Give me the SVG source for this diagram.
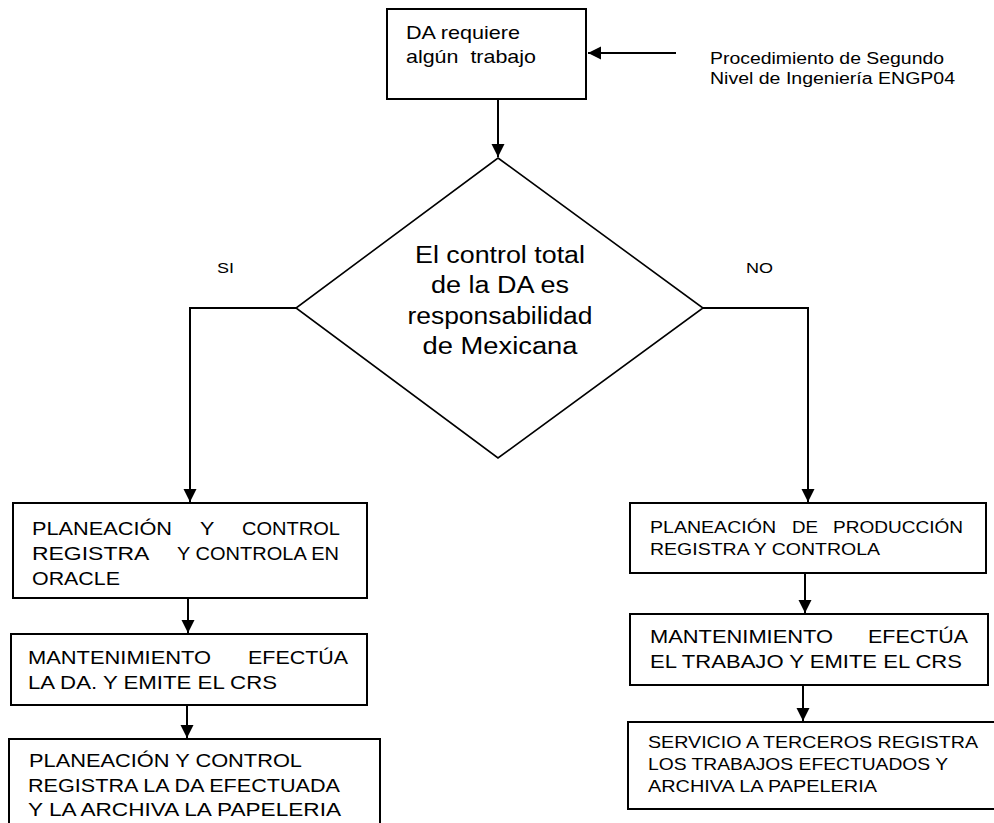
<svg xmlns="http://www.w3.org/2000/svg" width="994" height="823" viewBox="0 0 994 823">
<style>
.box{fill:#fff;stroke:#000;stroke-width:2}
.dia{fill:#fff;stroke:#000;stroke-width:1.6}
.t{font-family:"Liberation Sans",Arial,Helvetica,sans-serif;fill:#000}
.c{stroke:#000;stroke-width:2;fill:none}
</style>
<defs>
<marker id="ah" markerUnits="userSpaceOnUse" markerWidth="14" markerHeight="14" refX="13" refY="6.5" orient="auto">
<path d="M0,0 L13,6.5 L0,13 z" fill="#000"/>
</marker>
</defs>
<rect width="994" height="823" fill="#fff"/>

<g id="connectors">
<line class="c" x1="676" y1="53" x2="588" y2="53" marker-end="url(#ah)"/>
<line class="c" x1="498" y1="88" x2="498" y2="157" marker-end="url(#ah)"/>
<polyline class="c" points="296,308 190,308 190,502" marker-end="url(#ah)"/>
<polyline class="c" points="703,308 808,308 808,502" marker-end="url(#ah)"/>
<line class="c" x1="188" y1="598" x2="188" y2="633" marker-end="url(#ah)"/>
<line class="c" x1="187" y1="705" x2="187" y2="738" marker-end="url(#ah)"/>
<line class="c" x1="805" y1="573" x2="805" y2="613" marker-end="url(#ah)"/>
<line class="c" x1="803" y1="685" x2="803" y2="721" marker-end="url(#ah)"/>
</g>

<g id="start">
<rect class="box" x="387" y="9" width="199" height="90"/>
<text class="t" x="406" y="39" font-size="18.5" textLength="114" lengthAdjust="spacingAndGlyphs">DA requiere</text>
<text class="t" x="406" y="63" font-size="18.5" textLength="130" lengthAdjust="spacingAndGlyphs" xml:space="preserve">algún  trabajo</text>
</g>

<g id="source">
<text class="t" x="710" y="64" font-size="16" textLength="234" lengthAdjust="spacingAndGlyphs">Procedimiento de Segundo</text>
<text class="t" x="710" y="84" font-size="16" textLength="245" lengthAdjust="spacingAndGlyphs">Nivel de Ingeniería ENGP04</text>
</g>

<g id="decision">
<polygon class="dia" points="498,158 703,308 498,458 296,308"/>
<text class="t" x="500" y="263" font-size="23.5" text-anchor="middle" textLength="170" lengthAdjust="spacingAndGlyphs">El control total</text>
<text class="t" x="500" y="293" font-size="23.5" text-anchor="middle" textLength="138" lengthAdjust="spacingAndGlyphs">de la DA es</text>
<text class="t" x="500" y="324" font-size="23.5" text-anchor="middle" textLength="185" lengthAdjust="spacingAndGlyphs">responsabilidad</text>
<text class="t" x="500" y="354" font-size="23.5" text-anchor="middle" textLength="155" lengthAdjust="spacingAndGlyphs">de Mexicana</text>
</g>

<g id="label-si">
<text class="t" x="217" y="273" font-size="15" textLength="17" lengthAdjust="spacingAndGlyphs">SI</text>
</g>
<g id="label-no">
<text class="t" x="746" y="273" font-size="15" textLength="27" lengthAdjust="spacingAndGlyphs">NO</text>
</g>

<g id="left1">
<rect class="box" x="13" y="503" width="354" height="95"/>
<text class="t" y="535" font-size="18"><tspan x="32" textLength="140" lengthAdjust="spacingAndGlyphs">PLANEACIÓN</tspan><tspan> </tspan><tspan x="200" textLength="14" lengthAdjust="spacingAndGlyphs">Y</tspan><tspan> </tspan><tspan x="242" textLength="98" lengthAdjust="spacingAndGlyphs">CONTROL</tspan></text>
<text class="t" y="560" font-size="18"><tspan x="32" textLength="116" lengthAdjust="spacingAndGlyphs">REGISTRA</tspan><tspan> </tspan><tspan x="177" textLength="162" lengthAdjust="spacingAndGlyphs">Y CONTROLA EN</tspan></text>
<text class="t" x="32" y="585" font-size="18" textLength="88" lengthAdjust="spacingAndGlyphs">ORACLE</text>
</g>

<g id="left2">
<rect class="box" x="11" y="634" width="356" height="71"/>
<text class="t" y="664" font-size="19"><tspan x="28" textLength="183" lengthAdjust="spacingAndGlyphs">MANTENIMIENTO</tspan><tspan> </tspan><tspan x="248" textLength="100" lengthAdjust="spacingAndGlyphs">EFECTÚA</tspan></text>
<text class="t" x="28" y="689" font-size="19" textLength="249" lengthAdjust="spacingAndGlyphs">LA DA. Y EMITE EL CRS</text>
</g>

<g id="left3">
<rect class="box" x="9" y="739" width="371" height="100"/>
<text class="t" x="29" y="767" font-size="18.5" textLength="273" lengthAdjust="spacingAndGlyphs">PLANEACIÓN Y CONTROL</text>
<text class="t" x="28" y="792" font-size="18.5" textLength="312" lengthAdjust="spacingAndGlyphs">REGISTRA LA DA EFECTUADA</text>
<text class="t" x="28" y="816" font-size="18.5" textLength="313" lengthAdjust="spacingAndGlyphs">Y LA ARCHIVA LA PAPELERIA</text>
</g>

<g id="right1">
<rect class="box" x="630" y="503" width="356" height="70"/>
<text class="t" y="533" font-size="17"><tspan x="650" textLength="126" lengthAdjust="spacingAndGlyphs">PLANEACIÓN</tspan><tspan> </tspan><tspan x="792" textLength="26" lengthAdjust="spacingAndGlyphs">DE</tspan><tspan> </tspan><tspan x="833" textLength="130" lengthAdjust="spacingAndGlyphs">PRODUCCIÓN</tspan></text>
<text class="t" x="650" y="555" font-size="17" textLength="230" lengthAdjust="spacingAndGlyphs">REGISTRA Y CONTROLA</text>
</g>

<g id="right2">
<rect class="box" x="630" y="614" width="358" height="71"/>
<text class="t" y="643" font-size="19"><tspan x="650" textLength="183" lengthAdjust="spacingAndGlyphs">MANTENIMIENTO</tspan><tspan> </tspan><tspan x="868" textLength="100" lengthAdjust="spacingAndGlyphs">EFECTÚA</tspan></text>
<text class="t" x="650" y="668" font-size="19" textLength="312" lengthAdjust="spacingAndGlyphs">EL TRABAJO Y EMITE EL CRS</text>
</g>

<g id="right3">
<rect class="box" x="628" y="722" width="380" height="87"/>
<text class="t" x="648" y="748" font-size="17" textLength="330" lengthAdjust="spacingAndGlyphs">SERVICIO A TERCEROS REGISTRA</text>
<text class="t" x="648" y="770" font-size="17" textLength="300" lengthAdjust="spacingAndGlyphs">LOS TRABAJOS EFECTUADOS Y</text>
<text class="t" x="648" y="792" font-size="17" textLength="229" lengthAdjust="spacingAndGlyphs">ARCHIVA LA PAPELERIA</text>
</g>
</svg>
